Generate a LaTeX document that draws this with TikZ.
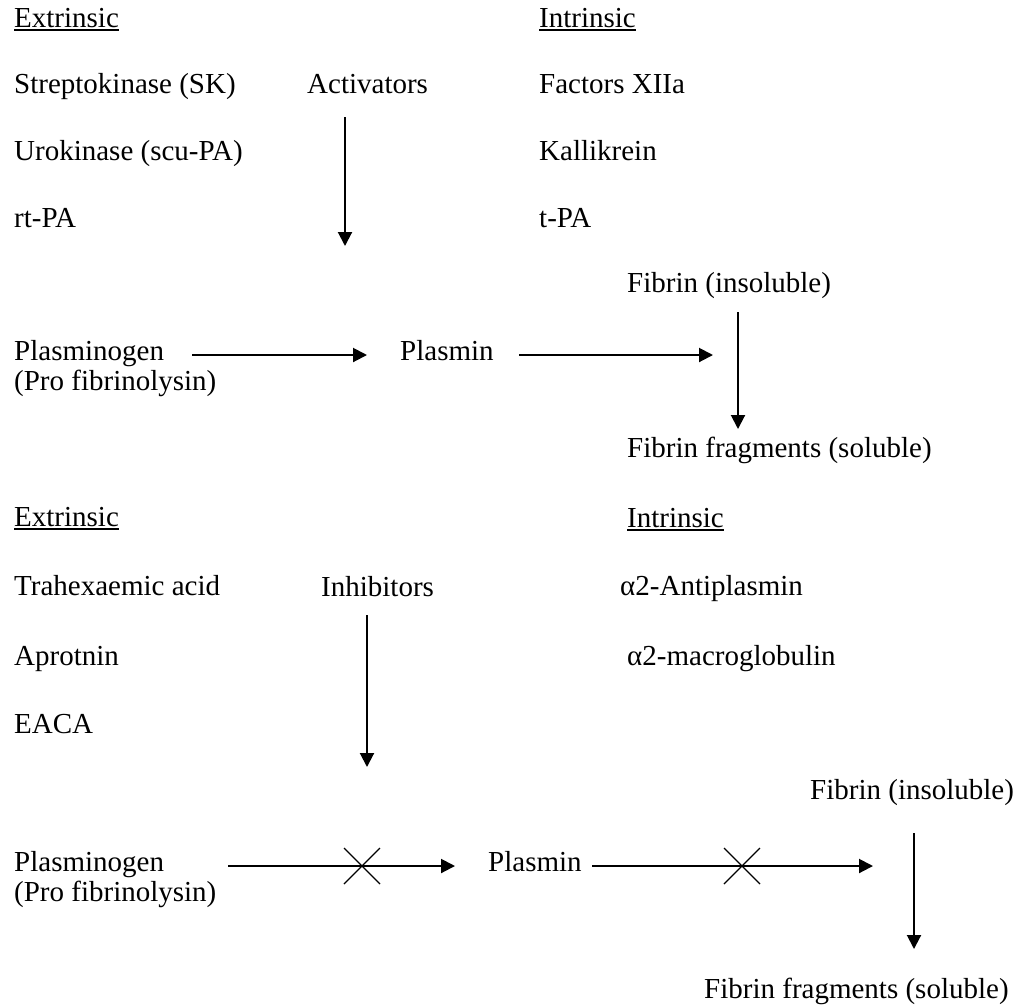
\documentclass[tikz,border=0pt]{standalone}
\usepackage{fontspec}
\setmainfont{Liberation Serif}
\usetikzlibrary{arrows.meta}
\begin{document}
\begin{tikzpicture}[x=1pt,y=-1pt,
  lbl/.style={anchor=base west,inner sep=0pt,font=\fontsize{29}{34}\selectfont},
  arr/.style={line width=2pt,-{Triangle[length=14pt,width=14pt]}},
  uline/.style={line width=1.3pt},
  cross/.style={line width=1.3pt}]
\useasboundingbox (0,0) rectangle (1016,1005);
% ---------- top half: activators ----------
\node[lbl] (ext1) at (14,27) {Extrinsic};
\node[lbl] (int1) at (539,27) {Intrinsic};
\draw[uline] ([yshift=-3pt]ext1.base west) -- ([yshift=-3pt]ext1.base east);
\draw[uline] ([yshift=-3pt]int1.base west) -- ([yshift=-3pt]int1.base east);
\node[lbl] (sk) at (14,93) {Streptokinase (SK)};
\node[lbl] (act) at (307,93) {Activators};
\node[lbl] (f12) at (539,93) {Factors XIIa};
\node[lbl] (uro) at (14,160) {Urokinase (scu-PA)};
\node[lbl] (kal) at (539,160) {Kallikrein};
\node[lbl] (rtpa) at (14,227) {rt-PA};
\node[lbl] (tpa) at (539,227) {t-PA};
\coordinate (a1s) at (345,117);
\coordinate (a1e) at (345,246);
\draw[arr] (a1s) -- (a1e);
\node[lbl] (fib1) at (627,292) {Fibrin (insoluble)};
\node[lbl] (plg1) at (14,360) {Plasminogen};
\node[lbl] (pro1) at (14,390) {(Pro fibrinolysin)};
\node[lbl] (pls1) at (400,360) {Plasmin};
\coordinate (b1s) at (192,355);
\coordinate (b1e) at (367,355);
\draw[arr] (b1s) -- (b1e);
\coordinate (c1s) at (519,355);
\coordinate (c1e) at (713,355);
\draw[arr] (c1s) -- (c1e);
\coordinate (d1s) at (738,312);
\coordinate (d1e) at (738,429);
\draw[arr] (d1s) -- (d1e);
\node[lbl] (frag1) at (627,457) {Fibrin fragments (soluble)};
% ---------- bottom half: inhibitors ----------
\node[lbl] (ext2) at (14,526) {Extrinsic};
\node[lbl] (int2) at (627,527) {Intrinsic};
\draw[uline] ([yshift=-3pt]ext2.base west) -- ([yshift=-3pt]ext2.base east);
\draw[uline] ([yshift=-3pt]int2.base west) -- ([yshift=-3pt]int2.base east);
\node[lbl] (tra) at (14,595) {Trahexaemic acid};
\node[lbl] (inh) at (321,596) {Inhibitors};
\node[lbl] (anti) at (620,595) {α2-Antiplasmin};
\node[lbl] (apr) at (14,665) {Aprotnin};
\node[lbl] (macro) at (627,665) {α2-macroglobulin};
\node[lbl] (eaca) at (14,733) {EACA};
\coordinate (a2s) at (367,615);
\coordinate (a2e) at (367,767);
\draw[arr] (a2s) -- (a2e);
\node[lbl] (fib2) at (810,799) {Fibrin (insoluble)};
\node[lbl] (plg2) at (14,871) {Plasminogen};
\node[lbl] (pro2) at (14,901) {(Pro fibrinolysin)};
\node[lbl] (pls2) at (488,871) {Plasmin};
\coordinate (b2s) at (228,866);
\coordinate (b2e) at (455,866);
\draw[arr] (b2s) -- (b2e);
\coordinate (x1) at (362,866);
\draw[cross] (x1) ++(-18,-18) -- ++(36,36);
\draw[cross] (x1) ++(-18,18) -- ++(36,-36);
\coordinate (c2s) at (592,866);
\coordinate (c2e) at (873,866);
\draw[arr] (c2s) -- (c2e);
\coordinate (x2) at (742,866);
\draw[cross] (x2) ++(-18,-18) -- ++(36,36);
\draw[cross] (x2) ++(-18,18) -- ++(36,-36);
\coordinate (d2s) at (914,833);
\coordinate (d2e) at (914,949);
\draw[arr] (d2s) -- (d2e);
\node[lbl] (frag2) at (704,998) {Fibrin fragments (soluble)};
\end{tikzpicture}
\end{document}
